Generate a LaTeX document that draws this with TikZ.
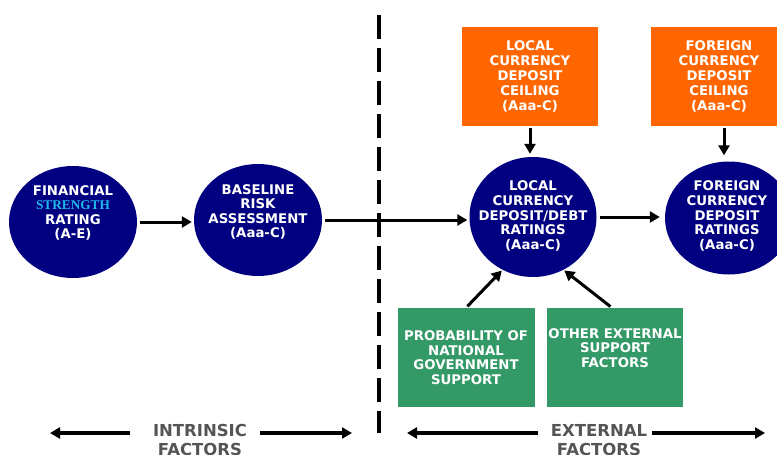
\documentclass[tikz,border=0pt]{standalone}
\usepackage{fontspec}
\setmainfont{DejaVu Sans}
\newfontfamily\strengthfont{Liberation Serif}
\usetikzlibrary{arrows.meta,shapes.geometric}
\definecolor{ratenavy}{RGB}{0,0,128}
\definecolor{ceilorange}{RGB}{255,102,0}
\definecolor{suppgreen}{RGB}{51,153,102}
\definecolor{strengthcyan}{RGB}{30,185,235}
\definecolor{factorgray}{RGB}{85,85,85}
\tikzset{
  ratenode/.style = {ellipse, fill=ratenavy, draw=none, inner sep=0pt,
    minimum width=128pt, minimum height=112pt},% notation, ellipse bleue
  ratetext/.style = {align=center, inner sep=0pt, text=white,
    font=\fontsize{13.3}{14.6}\selectfont\bfseries},% texte des notations
  ceilbox/.style = {rectangle, fill=ceilorange, inner sep=0pt, align=center,
    text=white, font=\fontsize{13.3}{15}\selectfont\bfseries,
    minimum width=136pt, minimum height=99pt},% plafond, boite orange
  suppbox/.style = {rectangle, fill=suppgreen, inner sep=0pt, align=center,
    text=white, font=\fontsize{13.3}{14.6}\selectfont\bfseries,
    minimum width=137pt, minimum height=99pt},% soutien, boite verte
  factortext/.style = {align=center, inner sep=0pt, text=factorgray,
    font=\fontsize{16.5}{19.5}\selectfont\bfseries},% facteurs en bas
  flow/.style = {->, line width=3pt},
  factorflow/.style = {->, line width=3.5pt},
  divider/.style = {line width=4.5pt, dash pattern=on 24pt off 9pt}
}
\begin{document}
\begin{tikzpicture}[x=1pt,y=-1pt,>={Triangle[length=10pt,width=11pt]}]
\useasboundingbox (0,0) rectangle (777,455);
% notations
\node [ratenode] (fsr) at (73,222) {};
\node [ratetext] (fsrt) at (73,213) {FINANCIAL\\{\strengthfont\color{strengthcyan}STRENGTH}\\RATING\\(A-E)};
\node [ratenode] (bra) at (258,220) {};
\node [ratetext] (brat) at (258,212) {BASELINE\\RISK\\ASSESSMENT\\(Aaa-C)};
\node [ratenode, minimum width=127pt, minimum height=120pt] (lcd) at (533,217) {};
\node [ratetext] (lcdt) at (533,216) {LOCAL\\CURRENCY\\DEPOSIT/DEBT\\RATINGS\\(Aaa-C)};
\node [ratenode, minimum height=113pt] (ffr) at (729,218) {};
\node [ratetext] (ffrt) at (727,216) {FOREIGN\\CURRENCY\\DEPOSIT\\RATINGS\\(Aaa-C)};
% plafonds
\node [ceilbox] (lcc) at (530,76.5) {LOCAL\\CURRENCY\\DEPOSIT\\CEILING\\(Aaa-C)};
\node [ceilbox] (fcc) at (719,76) {FOREIGN\\CURRENCY\\DEPOSIT\\CEILING\\(Aaa-C)};
% soutien
\node [suppbox] (ngs) at (466,357.5) {PROBABILITY OF\\NATIONAL\\GOVERNMENT\\SUPPORT};
\node [suppbox, minimum width=136pt] (oes) at (615,357.5) {OTHER EXTERNAL\\SUPPORT\\FACTORS\\\strut};
% fleches
\draw [flow, shorten <=3pt, shorten >=2pt] (fsr.east) -- (fsr.east -| bra.west);
\draw [flow, shorten <=3pt, shorten >=2pt] (bra.east) -- (bra.east -| lcd.west);
\draw [flow, shorten <=3pt, shorten >=5pt] (lcd.east) -- (lcd.east -| ffr.west);
\draw [flow, shorten <=2pt, shorten >=3pt] (lcc.south) -- (lcc.south |- lcd.north);
\draw [flow, shorten <=2pt, shorten >=6pt] ([xshift=5pt]fcc.south) -- ([xshift=5pt]fcc.south |- ffr.north);
\draw [flow, shorten <=2pt, shorten >=1pt] (ngs.north) -- (lcd.240);
\draw [flow, shorten <=2pt, shorten >=1pt] ([xshift=-3pt]oes.north) -- (lcd.300);
% separation
\coordinate (divtop) at (379,15);
\coordinate (divbot) at (379,433);
\draw [divider] (divtop) -- (divbot);
% facteurs
\node [factortext] (intr) at (200,440) {INTRINSIC\\FACTORS};
\coordinate (intrleft) at (50,433);
\coordinate (intrright) at (352,433);
\draw [factorflow] ([xshift=-23pt]intr.west |- intrleft) -- (intrleft);
\draw [factorflow] ([xshift=13pt]intr.east |- intrright) -- (intrright);
\node [factortext] (extr) at (599,440) {EXTERNAL\\FACTORS};
\coordinate (extrleft) at (407,433);
\coordinate (extrright) at (765,433);
\draw [factorflow] ([xshift=-13pt]extr.west |- extrleft) -- (extrleft);
\draw [factorflow] ([xshift=5pt]extr.east |- extrright) -- (extrright);
\end{tikzpicture}
\end{document}
